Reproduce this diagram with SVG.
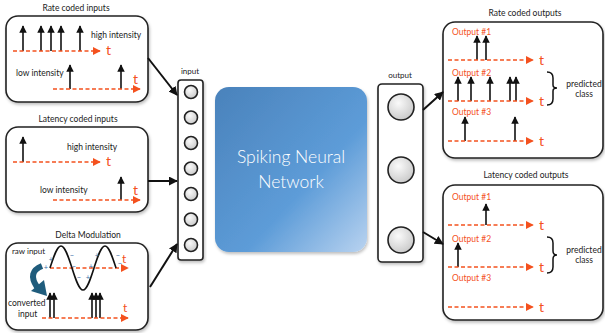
<svg xmlns="http://www.w3.org/2000/svg" width="605" height="333" viewBox="0 0 605 333">
<style>
.box{fill:#fff;stroke:#222;stroke-width:1.6;filter:url(#sh)}
.ttl{font-family:Lato,"Liberation Sans",sans-serif;font-size:8.5px;fill:#222;text-anchor:middle}
.lbl{font-family:Lato,"Liberation Sans",sans-serif;font-size:8.5px;fill:#222}
.red{font-family:Lato,"Liberation Sans",sans-serif;font-size:8.5px;fill:#f4511e}
.t{font-family:Lato,"Liberation Sans",sans-serif;font-size:14px;fill:#f4511e}
.sg{font-family:Lato,"Liberation Sans",sans-serif;font-size:7.5px;fill:#3d6fa8;text-anchor:middle}
.sp{stroke:#111;stroke-width:1.6;marker-end:url(#ah)}
.tl{stroke:#f4511e;stroke-width:1.6;stroke-dasharray:4 2.5;fill:none;marker-end:url(#rh)}
.con{stroke:#111;stroke-width:2;fill:none;marker-end:url(#ch)}
.nd{fill:url(#cg);stroke:#222;stroke-width:1.6}
.br{fill:none;stroke:#111;stroke-width:1.5}
</style>
<defs>
<filter id="sh" x="-10%" y="-10%" width="125%" height="125%"><feDropShadow dx="1" dy="2" stdDeviation="1.5" flood-color="#000" flood-opacity="0.25"/></filter>
<marker id="ah" viewBox="0 0 10 10" refX="9" refY="5" markerUnits="userSpaceOnUse" markerWidth="7.5" markerHeight="7.5" orient="auto"><path d="M0,0 L10,5 L0,10 z" fill="#111"/></marker>
<marker id="rh" viewBox="0 0 10 10" refX="9" refY="5" markerUnits="userSpaceOnUse" markerWidth="8" markerHeight="8" orient="auto"><path d="M0,0 L10,5 L0,10 z" fill="#f4511e"/></marker>
<marker id="ch" viewBox="0 0 10 10" refX="9" refY="5" markerUnits="userSpaceOnUse" markerWidth="9" markerHeight="9" orient="auto"><path d="M0,0 L10,5 L0,10 z" fill="#111"/></marker>
<radialGradient id="cg" cx="0.4" cy="0.35" r="0.7"><stop offset="0" stop-color="#fafafa"/><stop offset="1" stop-color="#c8c8c8"/></radialGradient>
<linearGradient id="snn" x1="0" y1="0" x2="1" y2="1"><stop offset="0" stop-color="#4a82bb"/><stop offset="0.6" stop-color="#5d9cd8"/><stop offset="1" stop-color="#b9d3f0"/></linearGradient>
</defs>

<g id="rate-inputs">
<text class="ttl" x="76" y="11">Rate coded inputs</text>
<rect class="box" x="6" y="16" width="142" height="86" rx="12"/>
<line class="sp" x1="23" y1="51" x2="23" y2="26"/>
<line class="sp" x1="41" y1="51" x2="41" y2="26"/>
<line class="sp" x1="51" y1="51" x2="51" y2="26"/>
<line class="sp" x1="61" y1="51" x2="61" y2="26"/>
<line class="sp" x1="80" y1="51" x2="80" y2="26"/>
<path class="tl" d="M13,51 H100"/>
<text class="t" x="106" y="55">t</text>
<text class="lbl" x="91" y="38">high intensity</text>
<text class="lbl" x="16" y="76">low intensity</text>
<line class="sp" x1="70" y1="89" x2="70" y2="65"/>
<line class="sp" x1="121" y1="89" x2="121" y2="65"/>
<path class="tl" d="M53,89 H140"/>
<text class="t" x="133" y="84">t</text>
</g>

<g id="latency-inputs">
<text class="ttl" x="78" y="122">Latency coded inputs</text>
<rect class="box" x="6" y="127" width="142" height="85" rx="12"/>
<line class="sp" x1="23" y1="162" x2="23" y2="137"/>
<path class="tl" d="M13,162 H100"/>
<text class="t" x="106" y="166">t</text>
<text class="lbl" x="67" y="150">high intensity</text>
<text class="lbl" x="40" y="193">low intensity</text>
<line class="sp" x1="121" y1="200" x2="121" y2="177"/>
<path class="tl" d="M53,200 H140"/>
<text class="t" x="133" y="195">t</text>
</g>

<g id="delta-modulation">
<text class="ttl" x="88" y="238">Delta Modulation</text>
<rect class="box" x="6" y="243" width="142" height="87" rx="12"/>
<text class="lbl" x="12" y="254" style="font-size:8px">raw input</text>
<path class="tl" d="M50,268 H128"/>
<text class="t" x="122" y="263" style="font-size:12px">t</text>
<path d="M50,268 C53.7,256.4 57,246 61,246 C65,246 68.3,256.4 72,268 C75.7,279.6 79,290 83,290 C87,290 90.3,279.6 94,268 C97.7,256.4 101,246 105,246 C109,246 112.3,256.4 116,268" fill="none" stroke="#111" stroke-width="1.6"/>
<text class="sg" x="51" y="262">+</text>
<text class="sg" x="46" y="270">+</text>
<text class="sg" x="72" y="258">−</text>
<text class="sg" x="74" y="269">−</text>
<text class="sg" x="79" y="280">−</text>
<text class="sg" x="88" y="280">+</text>
<text class="sg" x="91" y="269">+</text>
<text class="sg" x="97" y="258">+</text>
<text class="sg" x="118" y="258">−</text>
<text class="sg" x="120" y="266">−</text>
<path d="M42,266 Q27,272 37,287" fill="none" stroke="#1f5c7c" stroke-width="6"/>
<path d="M47,296 L31,291 L44,280 z" fill="#1f5c7c"/>
<text class="lbl" x="8" y="306">converted</text>
<text class="lbl" x="18" y="317">input</text>
<line class="sp" x1="50" y1="318" x2="50" y2="293"/>
<line class="sp" x1="54" y1="318" x2="54" y2="293"/>
<line class="sp" x1="92" y1="318" x2="92" y2="293"/>
<line class="sp" x1="96" y1="318" x2="96" y2="293"/>
<line class="sp" x1="100" y1="318" x2="100" y2="293"/>
<path class="tl" d="M42,318 H128"/>
<text class="t" x="123" y="312" style="font-size:12px">t</text>
</g>

<g id="input-layer">
<text class="ttl" x="190" y="74" style="font-size:8px">input</text>
<rect x="178" y="80" width="25" height="180" rx="3" fill="#fff" stroke="#222" stroke-width="1.6" filter="url(#sh)"/>
<circle class="nd" cx="191" cy="92" r="6.5"/>
<circle class="nd" cx="191" cy="117.5" r="6.5"/>
<circle class="nd" cx="191" cy="143" r="6.5"/>
<circle class="nd" cx="191" cy="168.5" r="6.5"/>
<circle class="nd" cx="191" cy="194" r="6.5"/>
<circle class="nd" cx="191" cy="219.5" r="6.5"/>
<circle class="nd" cx="191" cy="245" r="6.5"/>
</g>

<g id="snn">
<rect x="215" y="87" width="152" height="165" rx="14" fill="url(#snn)" filter="url(#sh)"/>
<text x="291" y="163" text-anchor="middle" font-family="Lato,'Liberation Sans',sans-serif" font-size="17.5" font-weight="300" fill="#fff">Spiking Neural</text>
<text x="291" y="188" text-anchor="middle" font-family="Lato,'Liberation Sans',sans-serif" font-size="17.5" font-weight="300" fill="#fff">Network</text>
</g>

<g id="output-layer">
<text class="ttl" x="400" y="78" style="font-size:8px">output</text>
<rect x="378" y="84" width="45" height="178" rx="4" fill="#fff" stroke="#222" stroke-width="1.6" filter="url(#sh)"/>
<circle class="nd" cx="401" cy="107" r="13"/>
<circle class="nd" cx="401" cy="170" r="13"/>
<circle class="nd" cx="401" cy="240" r="13"/>
</g>

<g id="rate-outputs">
<text class="ttl" x="525" y="16">Rate coded outputs</text>
<rect class="box" x="443" y="22" width="160" height="136" rx="12"/>
<text class="red" x="452" y="35">Output #1</text>
<line class="sp" x1="477" y1="60" x2="477" y2="36"/>
<line class="sp" x1="486" y1="60" x2="486" y2="36"/>
<path class="tl" d="M448,60 H533"/>
<text class="t" x="539" y="65">t</text>
<text class="red" x="452" y="76">Output #2</text>
<line class="sp" x1="458" y1="101" x2="458" y2="77"/>
<line class="sp" x1="471" y1="101" x2="471" y2="77"/>
<line class="sp" x1="490" y1="101" x2="490" y2="77"/>
<line class="sp" x1="510" y1="101" x2="510" y2="77"/>
<line class="sp" x1="516" y1="101" x2="516" y2="77"/>
<path class="tl" d="M448,101 H533"/>
<text class="t" x="539" y="106">t</text>
<text class="red" x="452" y="115">Output #3</text>
<line class="sp" x1="465" y1="141" x2="465" y2="117"/>
<line class="sp" x1="515" y1="141" x2="515" y2="117"/>
<path class="tl" d="M448,141 H533"/>
<text class="t" x="539" y="146">t</text>
<path class="br" d="M547,72 Q553,72 553,78 V85 Q553,88 557,88 Q553,88 553,91 V99 Q553,105 547,105"/>
<text class="ttl" x="584" y="87">predicted</text>
<text class="ttl" x="584" y="97">class</text>
</g>

<g id="latency-outputs">
<text class="ttl" x="526" y="178">Latency coded outputs</text>
<rect class="box" x="443" y="185" width="160" height="135" rx="12"/>
<text class="red" x="452" y="200">Output #1</text>
<line class="sp" x1="486" y1="225" x2="486" y2="204"/>
<path class="tl" d="M448,225 H533"/>
<text class="t" x="539" y="230">t</text>
<text class="red" x="452" y="242">Output #2</text>
<line class="sp" x1="458" y1="267" x2="458" y2="243"/>
<path class="tl" d="M448,267 H533"/>
<text class="t" x="539" y="272">t</text>
<text class="red" x="452" y="281">Output #3</text>
<path class="tl" d="M448,307 H533"/>
<text class="t" x="539" y="312">t</text>
<path class="br" d="M547,237 Q553,237 553,243 V251 Q553,255 557,255 Q553,255 553,259 V267 Q553,273 547,273"/>
<text class="ttl" x="584" y="253">predicted</text>
<text class="ttl" x="584" y="263">class</text>
</g>

<g id="connectors">
<path class="con" d="M148,58 L177,95"/>
<path class="con" d="M148,181 L177,181"/>
<path class="con" d="M150,287 L177,244"/>
<path class="con" d="M423,110 L443,92"/>
<path class="con" d="M423,232 L443,244"/>
</g>
</svg>
